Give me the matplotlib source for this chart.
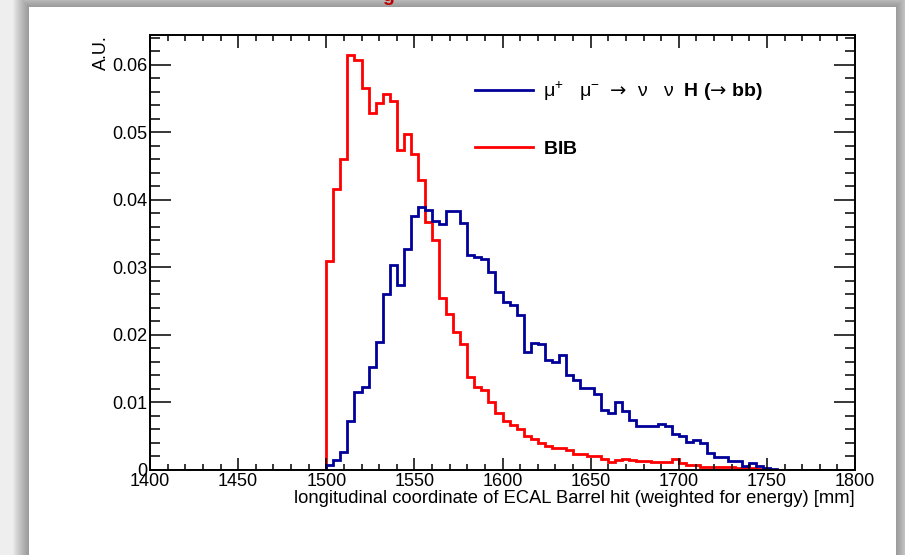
import numpy as np
import matplotlib
matplotlib.use("Agg")
import matplotlib.pyplot as plt
from matplotlib.ticker import MultipleLocator, FixedLocator, FixedFormatter
from matplotlib.patches import Rectangle
from matplotlib.lines import Line2D

plt.rcParams['font.family'] = ['Liberation Sans', 'DejaVu Sans']
plt.rcParams['mathtext.fontset'] = 'custom'
plt.rcParams['mathtext.rm'] = 'Liberation Sans'
plt.rcParams['mathtext.it'] = 'Liberation Sans:italic'
plt.rcParams['mathtext.bf'] = 'Liberation Sans:bold'
plt.rcParams['mathtext.sf'] = 'DejaVu Sans'
plt.rcParams['mathtext.fallback'] = 'stix'

# ---- data ----
bin_lo, bin_hi, bin_w = 1400, 1800, 4
edges = np.arange(bin_lo, bin_hi + bin_w, bin_w)

bib_vals = [0.0] * 25 + [
    0.0310, 0.0416, 0.0460, 0.0615, 0.0607, 0.0565, 0.0528, 0.0544, 0.0557, 0.0547,
    0.0474, 0.0497, 0.0468, 0.0430, 0.0367, 0.0341, 0.0254, 0.0231, 0.0205, 0.0187,
    0.0138, 0.0123, 0.0119, 0.0100, 0.0084, 0.0073, 0.0067, 0.0061, 0.0050, 0.0046,
    0.0040, 0.0036, 0.0033, 0.0033, 0.0030, 0.0023, 0.0023, 0.0021, 0.0021, 0.0017,
    0.0012, 0.0015, 0.0017, 0.0015, 0.0013, 0.0013, 0.0012, 0.0012, 0.0012, 0.0016,
    0.0010, 0.0007, 0.0007, 0.0004, 0.0004, 0.0005, 0.0005, 0.0005, 0.0003, 0.0003,
    0.0003, 0.0002, 0.0002] + [0.0] * 12

higgs_vals = [0.0] * 25 + [
    0.0007, 0.0015, 0.0026, 0.0073, 0.0115, 0.0123, 0.0152, 0.0189, 0.0260, 0.0303,
    0.0274, 0.0327, 0.0376, 0.0390, 0.0385, 0.0368, 0.0364, 0.0384, 0.0384, 0.0366,
    0.0319, 0.0315, 0.0312, 0.0293, 0.0264, 0.0249, 0.0244, 0.0230, 0.0174, 0.0188,
    0.0186, 0.0163, 0.0160, 0.0170, 0.0141, 0.0133, 0.0121, 0.0121, 0.0112, 0.0089,
    0.0085, 0.0100, 0.0087, 0.0074, 0.0065, 0.0065, 0.0065, 0.0068, 0.0065, 0.0054,
    0.0050, 0.0042, 0.0044, 0.0040, 0.0025, 0.0019, 0.0019, 0.0014, 0.0014, 0.0006,
    0.0010, 0.0006, 0.0003, 0.0001] + [0.0] * 11

x_ticks = [1400, 1450, 1500, 1550, 1600, 1650, 1700, 1750, 1800]
x_tick_labels = ["1400", "1450", "1500", "1550", "1600", "1650", "1700", "1750", "1800"]
y_ticks = [0, 0.01, 0.02, 0.03, 0.04, 0.05, 0.06]
y_tick_labels = ["0", "0.01", "0.02", "0.03", "0.04", "0.05", "0.06"]

higgs_label = ("μ$^{+}$   μ$^{-}$  $\\mathsf{→}$  ν   ν  "
               "$\\mathbf{H\\ (}\\mathsf{→}\\ \\mathbf{bb)}$")
bib_label = r"$\mathbf{BIB}$"
x_title = "longitudinal coordinate of ECAL Barrel hit (weighted for energy) [mm]"
y_title = "A.U."

# ---- figure ----
W, H = 905, 555
fig = plt.figure(figsize=(W / 100, H / 100), dpi=100, facecolor='#eeeeee')

# slide panel with soft shadow
px0, py0, px1, py1 = 29, 7, 896, 560
for i in range(16, 0, -1):
    fig.patches.append(Rectangle(((px0 - i) / W, 1 - (py1 + i) / H),
                                 (px1 - px0 + 2 * i) / W, (py1 - py0 + 2 * i) / H,
                                 transform=fig.transFigure, facecolor='black',
                                 alpha=0.022, edgecolor='none', zorder=-20))
fig.patches.append(Rectangle((px0 / W, 1 - py1 / H), (px1 - px0) / W, (py1 - py0) / H,
                             transform=fig.transFigure, facecolor='white',
                             edgecolor='none', zorder=-10))

# clipped red title remnant at the very top
fig.text(388 / W, 1 - 1.0 / H, "g", color='#c00000', fontsize=14, fontweight='bold',
         ha='center', va='baseline', zorder=5)

ax = fig.add_axes([150 / W, 1 - 470 / H, 705 / W, 435 / H])
ax.set_zorder(1)
ax.set_facecolor('white')

ax.stairs(bib_vals, edges, color='#ff0000', linewidth=2.0, baseline=0)
ax.stairs(higgs_vals, edges, color='#000099', linewidth=2.0, baseline=0)

ax.set_xlim(bin_lo, bin_hi)
ax.set_ylim(0, 0.0644)

ax.xaxis.set_major_locator(FixedLocator(x_ticks))
ax.xaxis.set_major_formatter(FixedFormatter(x_tick_labels))
ax.yaxis.set_major_locator(FixedLocator(y_ticks))
ax.yaxis.set_major_formatter(FixedFormatter(y_tick_labels))
ax.xaxis.set_minor_locator(MultipleLocator(10))
ax.yaxis.set_minor_locator(MultipleLocator(0.002))

ax.tick_params(axis='both', which='both', direction='in', top=True, right=True,
               labelsize=13, width=1.1, colors='black')
ax.tick_params(axis='x', which='major', length=9, pad=2)
ax.tick_params(axis='x', which='minor', length=4.5)
ax.tick_params(axis='y', which='major', length=15, pad=2)
ax.tick_params(axis='y', which='minor', length=7.5)
for s in ax.spines.values():
    s.set_linewidth(1.4)

ax.set_xlabel(x_title, fontsize=13.2, loc='right', labelpad=0)
ax.set_ylabel(y_title, fontsize=13, loc='top')
ax.yaxis.set_label_coords(-0.057, 1.0)

handles = [Line2D([], [], color='#000099', lw=2.0), Line2D([], [], color='#ff0000', lw=2.0)]
ax.legend(handles, [higgs_label, bib_label], loc='upper left',
          bbox_to_anchor=(0.461, 0.898), frameon=False, fontsize=14,
          handlelength=3.0, handletextpad=0.5, labelspacing=1.95,
          borderpad=0, borderaxespad=0)

fig.savefig("out.png", dpi=100, facecolor=fig.get_facecolor())
